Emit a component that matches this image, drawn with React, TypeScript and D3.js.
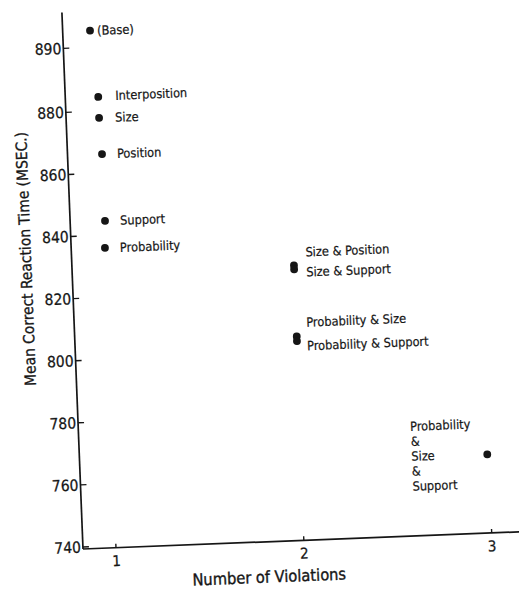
import React from "react";
import * as d3 from "d3";

// ---- data ----
const conditions = [
  "(Base)",
  "Interposition",
  "Size",
  "Position",
  "Support",
  "Probability",
  "Size & Position",
  "Size & Support",
  "Probability & Size",
  "Probability & Support",
  "Probability & Size & Support",
];
const violations = [0.97, 1.0, 1.0, 1.008, 1.01, 1.004, 2.005, 2.005, 2.005, 2.005, 2.993];
const reactionTimes = [892.6, 882.2, 877.8, 866.1, 844.6, 835.9, 827.9, 826.6, 805.0, 803.5, 764.7];

const yTicks = [740, 760, 780, 800, 820, 840, 860, 880, 890];
const xTicks = [1, 2, 3];
const xTitle = "Number of Violations";
const yTitle = "Mean Correct Reaction Time (MSEC.)";

// ---- layout (label offsets relative to each point, in px) ----
const labelLayout: { dx: number; dy: number; stacked?: boolean }[] = [
  { dx: 7, dy: 0 },
  { dx: 17, dy: -1 },
  { dx: 16, dy: 0 },
  { dx: 15, dy: 0 },
  { dx: 15, dy: 0 },
  { dx: 15, dy: 0 },
  { dx: 12, dy: -13 },
  { dx: 12, dy: 3 },
  { dx: 10, dy: -14 },
  { dx: 10, dy: 5 },
  { dx: -76, dy: -31, stacked: true },
];

const W = 519;
const H = 590;
const FONT = "'DejaVu Sans Condensed', 'DejaVu Sans', sans-serif";
const INK = "#161616";

export default function App() {
  // local (unrotated) frame with origin at the axes corner
  const x = d3.scaleLinear().domain([1, 3]).range([33, 409]);
  // broken axis: the 880-890 span is drawn wider than the rest
  const y = d3.scaleLinear().domain([740, 880, 890]).range([-2, -437, -501]);

  return (
    <svg
      width={W}
      height={H}
      style={{ position: "absolute", left: 0, top: 0, background: "#fff" }}
      fontFamily={FONT}
    >
      <rect width={W} height={H} fill="#fff" />
      <g transform="translate(83,549) rotate(-2.25)">
        {/* axes */}
        <line x1={0} y1={0} x2={0} y2={-537} stroke={INK} strokeWidth={1.7} />
        <line x1={0} y1={0} x2={445} y2={0} stroke={INK} strokeWidth={1.7} />

        {/* y ticks */}
        {yTicks.map((t) => (
          <g key={t} transform={`translate(0,${y(t)})`}>
            <line x1={0} x2={6} stroke={INK} strokeWidth={1.4} />
            <text
              x={-2}
              dy="0.36em"
              textAnchor="end"
              fontSize={15.5}
              fill={INK}
              stroke={INK}
              strokeWidth={0.25}
            >
              {t}
            </text>
          </g>
        ))}

        {/* x ticks */}
        {xTicks.map((t) => (
          <g key={t} transform={`translate(${x(t)},0)`}>
            <line y1={0} y2={-4} stroke={INK} strokeWidth={1.4} />
            <text
              y={13}
              dy="0.36em"
              textAnchor="middle"
              fontSize={15}
              fill={INK}
              stroke={INK}
              strokeWidth={0.25}
            >
              {t}
            </text>
          </g>
        ))}

        {/* axis titles */}
        <text
          x={185}
          y={35}
          dy="0.36em"
          textAnchor="middle"
          fontSize={16.3}
          fill={INK}
          stroke={INK}
          strokeWidth={0.35}
        >
          {xTitle}
        </text>
        <text
          transform={`translate(-46,-292) rotate(-90)`}
          dy="0.36em"
          textAnchor="middle"
          fontSize={15.4}
          fill={INK}
          stroke={INK}
          strokeWidth={0.3}
        >
          {yTitle}
        </text>

        {/* points */}
        {conditions.map((c, i) => (
          <circle key={c} cx={x(violations[i])} cy={y(reactionTimes[i])} r={3.9} fill={INK} />
        ))}

        {/* labels */}
        {conditions.map((c, i) => {
          const L = labelLayout[i];
          const px = x(violations[i]) + L.dx;
          const py = y(reactionTimes[i]) + L.dy;
          if (L.stacked) {
            const parts = c.split(" & ");
            const lines: string[] = [];
            parts.forEach((p, k) => {
              if (k > 0) lines.push("&");
              lines.push(p);
            });
            return (
              <text key={c} x={px} y={py} fontSize={12.7} fill={INK} stroke={INK} strokeWidth={0.2}>
                {lines.map((ln, k) => (
                  <tspan key={k} x={px} y={py + k * 15} dy="0.36em">
                    {ln}
                  </tspan>
                ))}
              </text>
            );
          }
          return (
            <text
              key={c}
              x={px}
              y={py}
              dy="0.36em"
              fontSize={12.7}
              fill={INK}
              stroke={INK}
              strokeWidth={0.2}
            >
              {c}
            </text>
          );
        })}
      </g>
    </svg>
  );
}
